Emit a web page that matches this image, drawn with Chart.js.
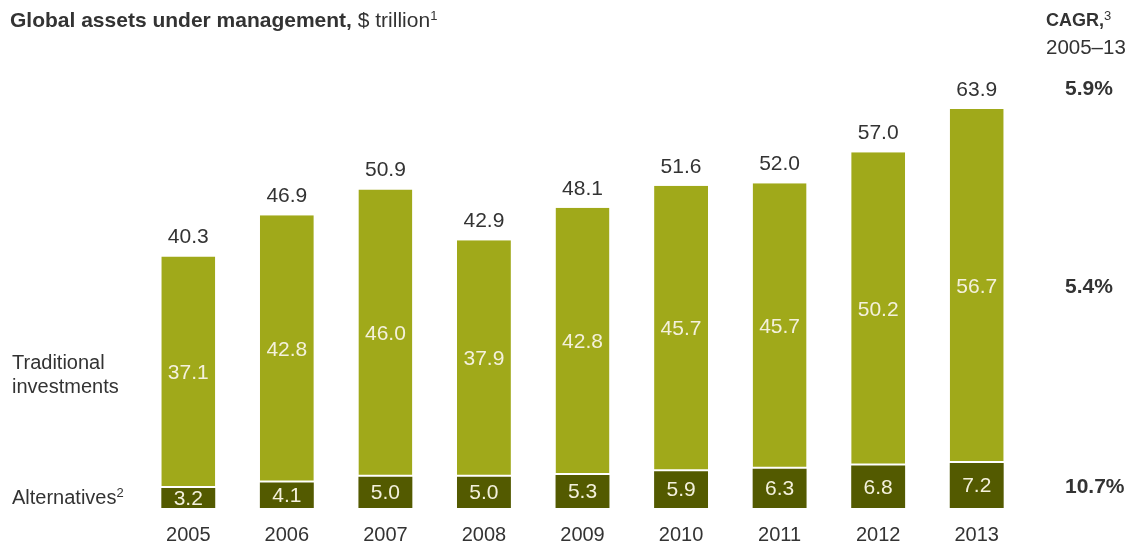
<!DOCTYPE html>
<html><head><meta charset="utf-8">
<script src="https://cdn.jsdelivr.net/npm/chart.js@4"></script>
<style>
html,body{margin:0;padding:0;background:#fff;}
#wrap{position:relative;width:1144px;height:546px;font-family:"Liberation Sans",Arial,sans-serif;color:#333;}
canvas{position:absolute;left:0;top:0;}
.t{position:absolute;white-space:nowrap;font-size:20px;line-height:24px;}
sup{font-size:13px;vertical-align:top;position:relative;top:-4px;font-weight:normal;}
</style></head>
<body><div id="wrap">
<canvas id="c" width="1144" height="546"></canvas>
<div class="t" style="left:10px;top:8px;font-size:21px;"><b>Global assets under management,</b> $ trillion<sup>1</sup></div>
<div class="t" style="left:1046px;top:8px;font-size:18px;"><b>CAGR,</b><sup>3</sup></div>
<div class="t" style="left:1046px;top:35px;font-size:20.5px;">2005–13</div>
<div class="t" style="left:1065px;top:76px;font-weight:bold;font-size:21px;">5.9%</div>
<div class="t" style="left:1065px;top:274px;font-weight:bold;font-size:21px;">5.4%</div>
<div class="t" style="left:1065px;top:474px;font-weight:bold;font-size:21px;">10.7%</div>
<div class="t" style="left:12px;top:350px;">Traditional<br>investments</div>
<div class="t" style="left:12px;top:485px;">Alternatives<sup>2</sup></div>
</div>
<script>
const years = ["2005","2006","2007","2008","2009","2010","2011","2012","2013"];
const alternatives = [3.2,4.1,5.0,5.0,5.3,5.9,6.3,6.8,7.2];
const traditional = [37.1,42.8,46.0,37.9,42.8,45.7,45.7,50.2,56.7];
const totals = [40.3,46.9,50.9,42.9,48.1,51.6,52.0,57.0,63.9];

const labelPlugin = {
  id:'labels',
  afterDatasetsDraw(chart){
    const ctx = chart.ctx;
    ctx.save();
    ctx.font = '21px "Liberation Sans", Arial, sans-serif';
    ctx.textAlign = 'center';
    ctx.textBaseline = 'middle';
    chart.data.datasets.forEach((ds, di) => {
      const meta = chart.getDatasetMeta(di);
      meta.data.forEach((bar, i) => {
        const mid = (bar.y + bar.base) / 2;
        ctx.fillStyle = '#f4f1dc';
        ctx.fillText(ds.data[i].toFixed(1), bar.x, mid + 1);
        if (di === 1) {
          ctx.fillStyle = '#333';
          ctx.fillText(totals[i].toFixed(1), bar.x, bar.y - 19);
        }
      });
    });
    ctx.restore();
  }
};

new Chart(document.getElementById('c'), {
  type:'bar',
  data:{
    labels: years,
    datasets:[
      {label:'Alternatives', data: alternatives, backgroundColor:'#535a00', borderWidth:0},
      {label:'Traditional investments', data: traditional, backgroundColor:'#a0a91a',
       borderColor:'#ffffff', borderWidth:{top:0,left:0,right:0,bottom:2}, borderSkipped:false}
    ]
  },
  options:{
    responsive:false,
    animation:false,
    layout:{padding:{left:139,right:118,top:71,bottom:0}},
    plugins:{legend:{display:false},tooltip:{enabled:false}},
    datasets:{bar:{barPercentage:0.547,categoryPercentage:1.0}},
    scales:{
      x:{stacked:true, grid:{display:false, drawTicks:false}, border:{display:false},
         ticks:{color:'#333', font:{size:20, family:'"Liberation Sans", Arial, sans-serif'}, padding:15},
         afterFit(scale){ scale.height = 38; }},
      y:{stacked:true, display:false, min:0, max:70}
    }
  },
  plugins:[labelPlugin]
});
</script>
</body></html>
